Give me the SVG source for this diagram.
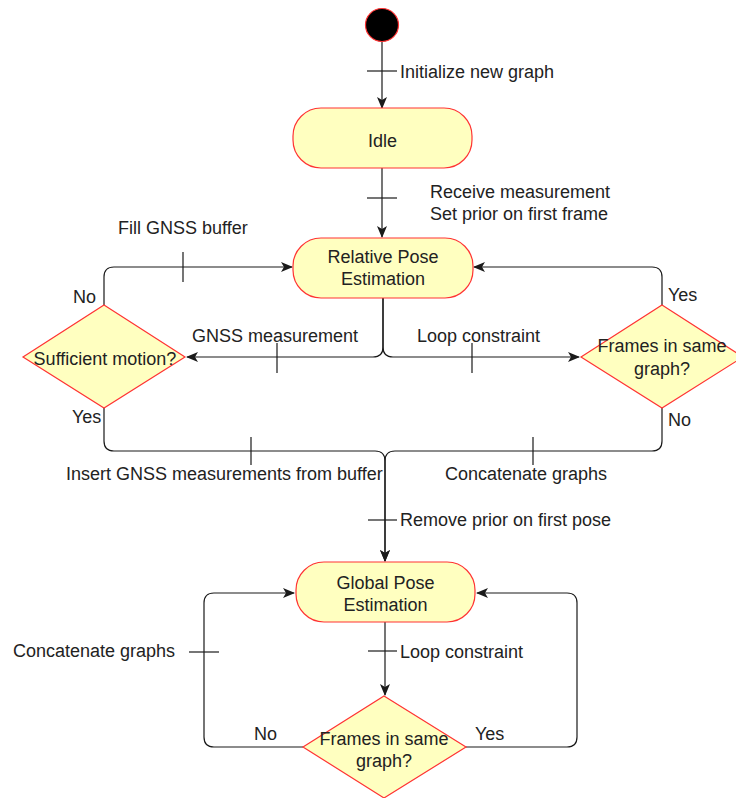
<svg xmlns="http://www.w3.org/2000/svg" width="736" height="798" viewBox="0 0 736 798">
  <style>
    .state { fill: #ffffc0; stroke: #ff3333; stroke-width: 1.2; }
    .start { fill: #000000; stroke: #ff3333; stroke-width: 1.2; }
    .edge { fill: none; stroke: #1a1a1a; stroke-width: 1.2; }
    .tick { fill: none; stroke: #1a1a1a; stroke-width: 1.2; }
    .arrow { marker-end: url(#head); }
    text { font-family: "Liberation Sans", Arial, sans-serif; font-size: 18px; fill: #222222; }
    .c { text-anchor: middle; }
  </style>
  <defs>
    <marker id="head" viewBox="0 0 12 10" markerWidth="12" markerHeight="10" refX="11" refY="5" orient="auto" markerUnits="userSpaceOnUse">
      <path d="M0,0 L12,5 L0,10 L3,5 Z" fill="#1a1a1a"/>
    </marker>
  </defs>

  <rect width="736" height="798" fill="#ffffff"/>

  <!-- connectors -->
  <g id="connectors">
    <path class="edge arrow" d="M382,42 V108"/>
    <path class="tick" d="M367,71 H397"/>

    <path class="edge arrow" d="M382,168 V237"/>
    <path class="tick" d="M367,198 H397"/>

    <path class="edge arrow" d="M383,298 V347 Q383,357 373,357 H187"/>
    <path class="tick" d="M277,343 V373"/>

    <path class="edge arrow" d="M383,298 V347 Q383,357 393,357 H579"/>
    <path class="tick" d="M472,343 V373"/>

    <path class="edge arrow" d="M104,305 V277 Q104,267 114,267 H292"/>
    <path class="tick" d="M183,252 V282"/>

    <path class="edge arrow" d="M662,305 V277 Q662,267 652,267 H474"/>

    <path class="edge arrow" d="M104,408 V441 Q104,451 114,451 H375 Q385,451 385,461 V561"/>
    <path class="tick" d="M251,437 V465"/>

    <path class="edge arrow" d="M662,408 V441 Q662,451 652,451 H395 Q385,451 385,461 V561"/>
    <path class="tick" d="M533,437 V465"/>
    <path class="tick" d="M368,520 H397"/>

    <path class="edge arrow" d="M385,622 V695"/>
    <path class="tick" d="M368,651 H397"/>

    <path class="edge arrow" d="M303,747 H214 Q204,747 204,737 V603 Q204,593 214,593 H294"/>
    <path class="tick" d="M189,652 H219"/>

    <path class="edge arrow" d="M466,747 H567 Q577,747 577,737 V603 Q577,593 567,593 H477"/>
  </g>

  <!-- connector labels -->
  <g id="edge-labels">
    <text x="400" y="78">Initialize new graph</text>
    <text x="430" y="198">Receive measurement</text>
    <text x="430" y="220">Set prior on first frame</text>
    <text x="118" y="234">Fill GNSS buffer</text>
    <text x="73" y="303">No</text>
    <text x="668" y="301">Yes</text>
    <text x="192" y="342">GNSS measurement</text>
    <text x="417" y="342">Loop constraint</text>
    <text x="72" y="423">Yes</text>
    <text x="668" y="426">No</text>
    <text x="66" y="480">Insert GNSS measurements from buffer</text>
    <text x="445" y="480">Concatenate graphs</text>
    <text x="400" y="526">Remove prior on first pose</text>
    <text x="400" y="658">Loop constraint</text>
    <text x="13" y="657">Concatenate graphs</text>
    <text x="254" y="740">No</text>
    <text x="475" y="740">Yes</text>
  </g>

  <!-- nodes -->
  <g id="start">
    <circle class="start" cx="382" cy="25" r="16.5"/>
  </g>

  <g id="idle">
    <rect class="state" x="293" y="108" width="179" height="60" rx="28" ry="28"/>
    <text class="c" x="382.5" y="147">Idle</text>
  </g>

  <g id="relative-pose">
    <rect class="state" x="293" y="238" width="180" height="60" rx="28" ry="28"/>
    <text class="c" x="383" y="263">Relative Pose</text>
    <text class="c" x="383" y="285">Estimation</text>
  </g>

  <g id="sufficient-motion">
    <polygon class="state" points="104,305 185,357 104,408 23,357"/>
    <text class="c" x="105" y="365">Sufficient motion?</text>
  </g>

  <g id="same-graph-relative">
    <polygon class="state" points="662,305 743,357 662,408 581,357"/>
    <text class="c" x="662" y="352">Frames in same</text>
    <text class="c" x="662" y="375">graph?</text>
  </g>

  <g id="global-pose">
    <rect class="state" x="296" y="562" width="179" height="60" rx="28" ry="28"/>
    <text class="c" x="385.5" y="589">Global Pose</text>
    <text class="c" x="385.5" y="611">Estimation</text>
  </g>

  <g id="same-graph-global">
    <polygon class="state" points="384,696 466,747 384,798 303,747"/>
    <text class="c" x="384" y="745">Frames in same</text>
    <text class="c" x="384" y="767">graph?</text>
  </g>
</svg>
